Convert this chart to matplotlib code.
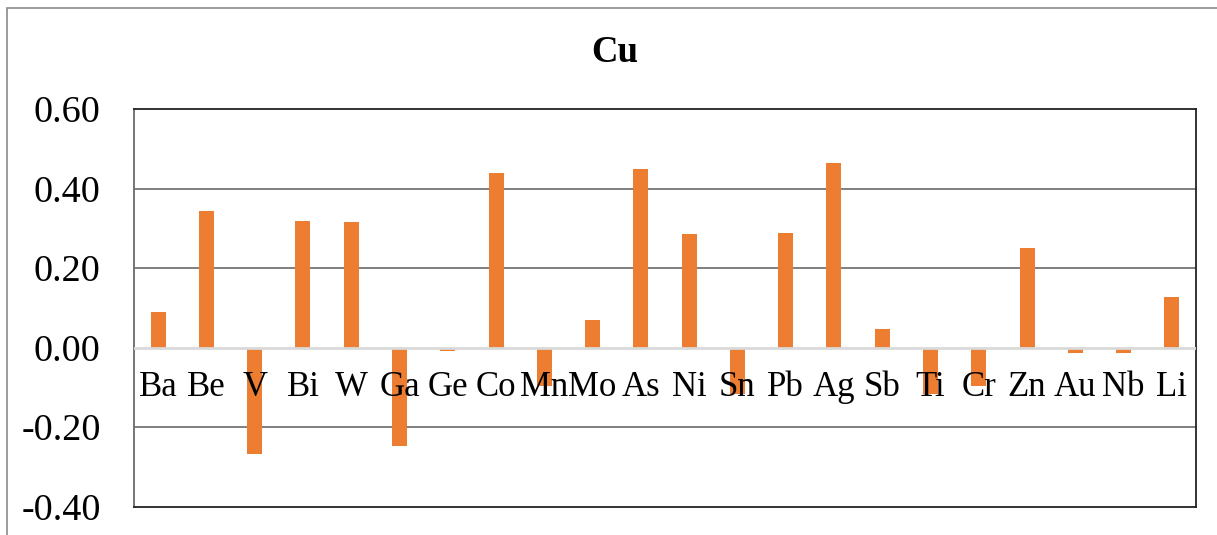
"""Correlation of Cu with other elements, bar chart."""

import matplotlib.pyplot as plt
import numpy as np
from matplotlib.patches import Rectangle
from matplotlib.transforms import blended_transform_factory

plt.rcParams["font.family"] = ["Liberation Serif", "DejaVu Serif"]

# Data
elements = ["Ba", "Be", "V", "Bi", "W", "Ga", "Ge", "Co", "Mn", "Mo", "As",
            "Ni", "Sn", "Pb", "Ag", "Sb", "Ti", "Cr", "Zn", "Au", "Nb", "Li"]
values = [0.09, 0.343, -0.268, 0.318, 0.316, -0.247, -0.010, 0.439, -0.096,
          0.069, 0.448, 0.286, -0.117, 0.289, 0.464, 0.047, -0.116, -0.096,
          0.250, -0.015, -0.015, 0.126]
y_ticks = [-0.40, -0.20, 0.00, 0.20, 0.40, 0.60]

W, H = 1217, 535
fig = plt.figure(figsize=(W / 100, H / 100), dpi=100)
ax = fig.add_axes([134 / W, 1 - 506.5 / H, (1196 - 134) / W, (506.5 - 109) / H])

x = np.arange(len(elements))
ax.bar(x, values, width=0.31, color="#ED7D31", zorder=3)

ax.set_xlim(-0.5, len(elements) - 0.5)
ax.set_ylim(-0.40, 0.60)
ax.set_yticks(y_ticks)
ax.set_yticklabels([f"{v:.2f}" for v in y_ticks], fontsize=27.5)
ax.tick_params(axis="y", length=0, pad=24)
ax.set_xticks([])

# gridlines
for v in y_ticks[1:-1]:
    if v == 0:
        continue
    ax.axhline(v, color="#6a6a6a", lw=1.2, zorder=1)
ax.axhline(0, color="#d9d9d9", lw=2, zorder=4)

for side in ["top", "bottom", "right"]:
    ax.spines[side].set_color("#222222")
    ax.spines[side].set_linewidth(1.3)
ax.spines["left"].set_color("#6a6a6a")
ax.spines["left"].set_linewidth(1.3)

# category labels sitting under the zero line
trans = blended_transform_factory(ax.transData, ax.transData)
for xi, name in zip(x, elements):
    ax.text(xi, -0.058, name, transform=trans, ha="center", va="top",
            fontsize=25, zorder=5)

fig.text(615 / W, 1 - 52 / H, "Cu", ha="center", va="center",
         fontsize=26.5, fontweight="bold")

# outer chart border (cropped at right and bottom)
fig.patches.append(Rectangle((7 / W, -0.2), 1.2, 1.2 - 8 / H,
                             transform=fig.transFigure, fill=False,
                             edgecolor="#8a8a8a", lw=1.2))

fig.savefig("out.png", dpi=100)
